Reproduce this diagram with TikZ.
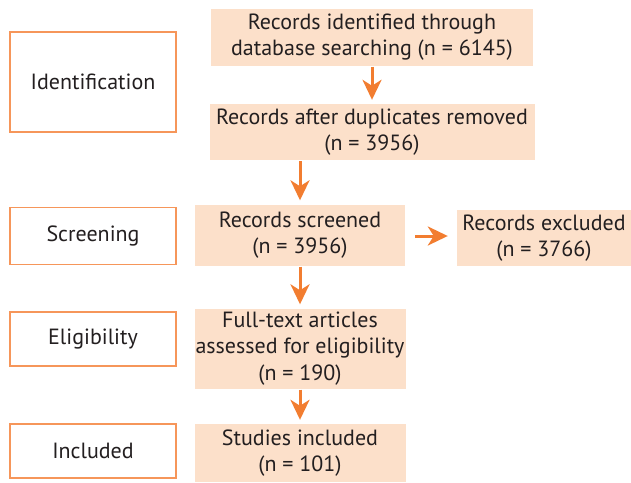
\documentclass[tikz,border=0pt]{standalone}
\usepackage{fontspec}
\setmainfont{PT Sans}
\usetikzlibrary{arrows.meta}
\definecolor{peach}{RGB}{252,224,202}
\definecolor{edgeorange}{RGB}{246,150,90}
\definecolor{arroworange}{RGB}{242,125,48}
\definecolor{inkgray}{RGB}{35,31,32}

\begin{document}
\begin{tikzpicture}[x=1pt,y=-1pt,
  stage/.style={draw=edgeorange, line width=1.5pt, fill=white, minimum width=166pt, align=center, inner sep=0pt},
  record/.style={fill=peach, align=center, inner sep=0pt},
  flow/.style={draw=arroworange, line width=3pt, -{Stealth[length=20pt,width=19pt,inset=6pt]}, shorten <=1pt, shorten >=4pt},
  every node/.style={text=inkgray, font=\fontsize{22}{26.5}\selectfont}]
\useasboundingbox (0,0) rectangle (631,482);
% left column
\node[stage, minimum height=100pt] (ident) at (93,82) {Identification};
\node[stage, minimum height=57pt] (screen) at (93,236) {Screening};
\node[stage, minimum height=54pt] (elig) at (93,339) {Eligibility};
\node[stage, minimum height=54pt] (incl) at (93,451) {Included};
% records
\node[record, minimum width=322pt, minimum height=57pt] (rec1) at (372,37) {Records identified through\\database searching (n = 6145)};
\node[record, minimum width=325pt, minimum height=56pt] (rec2) at (372,132) {Records after duplicates removed\\(n = 3956)};
\node[record, minimum width=210pt, minimum height=61pt] (rec3) at (300,235) {Records screened\\(n = 3956)};
\node[record, minimum width=174pt, minimum height=56pt] (rec4) at (544,238) {Records excluded\\(n = 3766)};
\node[record, minimum width=211pt, minimum height=80pt] (rec5) at (300,348.5) {Full-text articles\\assessed for eligibility\\(n = 190)};
\node[record, minimum width=211pt, minimum height=58pt] (rec6) at (300,453) {Studies included\\(n = 101)};
% arrows
\draw[flow] (rec1) -- (rec2);
\draw[flow] (rec2.south -| rec3) -- (rec3);
\draw[flow, shorten <=10pt, shorten >=9pt] (rec3.east |- 0,236) -- (rec4.west |- 0,236);
\draw[flow] (rec3) -- (rec5);
\draw[flow] (rec5) -- (rec6);
\end{tikzpicture}
\end{document}
